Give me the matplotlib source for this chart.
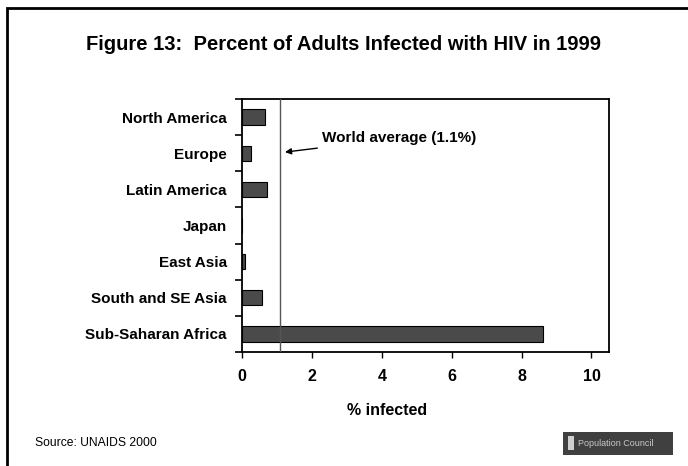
import matplotlib
matplotlib.use('Agg')
import matplotlib.pyplot as plt
from matplotlib.patches import Rectangle
import numpy as np

plt.rcParams['font.family'] = ['Liberation Sans', 'DejaVu Sans']

regions = ['North America', 'Europe', 'Latin America', 'Japan',
           'East Asia', 'South and SE Asia', 'Sub-Saharan Africa']
pct_infected = [0.65, 0.25, 0.72, 0.0, 0.08, 0.56, 8.6]
world_avg = 1.1
xticks = [0, 2, 4, 6, 8, 10]

fig = plt.figure(figsize=(6.88, 4.66), dpi=100)
ax = fig.add_axes([0.3517, 0.2446, 0.5334, 0.543])

y = np.arange(len(regions))
ax.barh(y, pct_infected, height=0.42, color='#4a4a4a', edgecolor='black',
        linewidth=0.8, zorder=2)
ax.axvline(world_avg, color='#555555', linewidth=1.0, zorder=3)

ax.set_xlim(0, 10.5)
ax.set_ylim(len(regions) - 0.5, -0.5)
ax.set_xticks(xticks)
ax.set_xticklabels([str(t) for t in xticks], fontsize=11.5, fontweight='bold')
ax.set_yticks(y)
ax.set_yticklabels(regions, fontsize=11, fontweight='bold')
ax.set_yticks(np.arange(-0.5, len(regions), 1.0), minor=True)
ax.tick_params(axis='y', which='major', length=0, pad=11)
ax.tick_params(axis='y', which='minor', length=5, width=1.2, direction='out')
ax.tick_params(axis='x', length=4, width=1.0, direction='out', pad=8)
for s in ax.spines.values():
    s.set_linewidth(1.3)

ax.set_xlabel('% infected', fontsize=11.5, fontweight='bold')
ax.xaxis.set_label_coords(0.395, -0.2)

ax.annotate('World average (1.1%)', xy=(1.23, 0.97), xytext=(2.3, 0.58),
            fontsize=11, fontweight='bold', va='center', ha='left',
            arrowprops=dict(arrowstyle='-|>', color='black', lw=1.0,
                            mutation_scale=9, shrinkA=2, shrinkB=0))

fig.text(0.5, 0.905, 'Figure 13:  Percent of Adults Infected with HIV in 1999',
         ha='center', va='center', fontsize=14.5, fontweight='bold')
fig.text(0.051, 0.049, 'Source: UNAIDS 2000', fontsize=8.7, va='center')

# outer frame
fig.patches.append(Rectangle((0.010, -0.1), 1.2, 1.082, transform=fig.transFigure,
                             fill=False, edgecolor='black', linewidth=2.0))

# logo box
fig.patches.append(Rectangle((0.818, 0.024), 0.16, 0.05, transform=fig.transFigure,
                             facecolor='#404040', edgecolor='none'))
fig.patches.append(Rectangle((0.826, 0.034), 0.008, 0.03, transform=fig.transFigure,
                             facecolor='#d0d0d0', edgecolor='none'))
fig.text(0.84, 0.049, 'Population Council', fontsize=6.5, color='#c8c8c8',
         va='center', ha='left')

fig.savefig('out.png', dpi=100)
